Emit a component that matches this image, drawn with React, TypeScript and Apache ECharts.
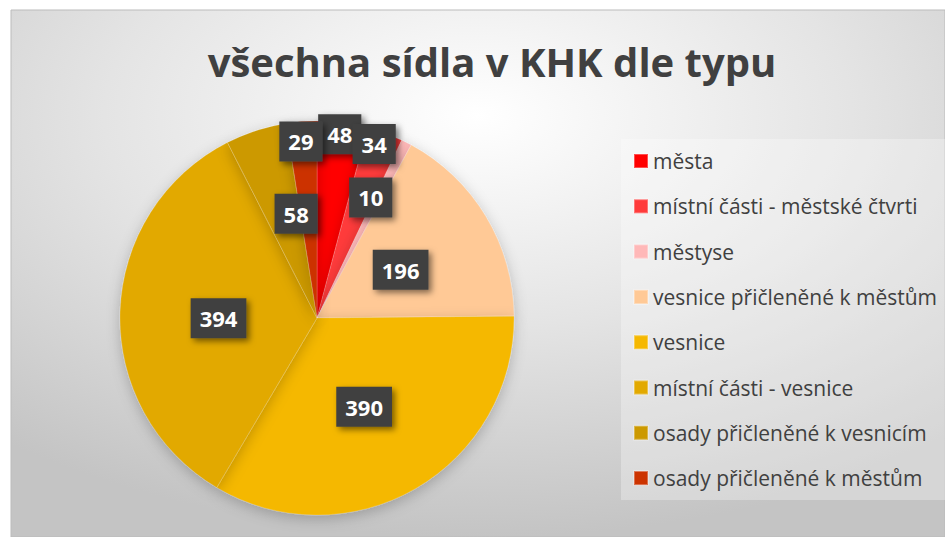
import React, { useEffect, useRef } from "react";
import * as echarts from "echarts";

const categories = [
  "města",
  "místní části - městské čtvrti",
  "městyse",
  "vesnice přičleněné k městům",
  "vesnice",
  "místní části - vesnice",
  "osady přičleněné k vesnicím",
  "osady přičleněné k městům",
];
const values = [48, 34, 10, 196, 390, 394, 58, 29];
const colors = ["#FF0000", "#FF3B3B", "#FFB8B8", "#FFC996", "#F5B800", "#E2A900", "#CC9900", "#CC3300"];
const titleText = "všechna sídla v KHK dle typu";

// label layout tweaks (fraction of radius, angle shift in degrees)
const labelRadius = [0.94, 0.93, 0.67, 0.49, 0.51, 0.5, 0.54, 0.9];
const labelAngleShift = [-0.4, -2, -3, 1, 2, -2, 6.7, -0.7];

const CX = 317;
const CY = 318;
const R = 197;

export default function App() {
  const ref = useRef<HTMLDivElement>(null);
  useEffect(() => {
    if (!ref.current) return;
    const chart = echarts.init(ref.current, null, { renderer: "svg" });
    const total = values.reduce((a, b) => a + b, 0);
    const cum: number[] = [];
    let acc = 0;
    values.forEach((v) => {
      cum.push(acc + v / 2);
      acc += v;
    });
    const font = "'Open Sans', 'Noto Sans', sans-serif";
    chart.setOption({
      animation: false,
      title: {
        text: titleText,
        left: 487,
        top: 36,
        textAlign: "center",
        textStyle: { fontSize: 40, fontWeight: "bold", color: "#404040", fontFamily: font },
      },
      graphic: [
        {
          type: "rect",
          z: -10,
          silent: true,
          shape: { x: 11, y: 10, width: 934, height: 527 },
          style: {
            fill: new echarts.graphic.RadialGradient(0.5, 0.2, 0.8, [
              { offset: 0, color: "#ffffff" },
              { offset: 0.5, color: "#e4e4e4" },
              { offset: 1, color: "#c4c4c4" },
            ]),
            stroke: "#bbbbbb",
            lineWidth: 1,
          },
        },
        {
          type: "rect",
          z: -9,
          silent: true,
          shape: { x: 621, y: 139, width: 324, height: 361 },
          style: { fill: "rgba(255,255,255,0.3)" },
        },
      ],
      legend: {
        orient: "vertical",
        left: 628,
        top: 145,
        icon: "rect",
        itemWidth: 14,
        itemHeight: 14,
        itemGap: 23.3,
        data: categories,
        textStyle: { fontSize: 21, color: "#404040", fontFamily: font, lineHeight: 22 },
      },
      series: [
        {
          type: "pie",
          center: [CX, CY],
          radius: R,
          startAngle: 90,
          clockwise: true,
          data: categories.map((name, i) => ({ name, value: values[i], itemStyle: { color: colors[i] } })),
          itemStyle: {
            borderColor: "rgba(255,255,255,0.3)",
            borderWidth: 0.5,
            shadowBlur: 14,
            shadowColor: "rgba(0,0,0,0.22)",
            shadowOffsetY: 4,
          },
          label: {
            show: true,
            position: "inside",
            formatter: "{c}",
            color: "#ffffff",
            fontSize: 22,
            fontWeight: "bold",
            fontFamily: font,
            lineHeight: 22,
            backgroundColor: "#404040",
            padding: [9, 9, 9, 9],
            shadowBlur: 6,
            shadowColor: "rgba(0,0,0,0.5)",
            shadowOffsetX: 3,
            shadowOffsetY: 3,
          },
          labelLine: { show: false },
          labelLayout: (params: any) => {
            const i = params.dataIndex;
            const ang = ((cum[i] / total) * 360 + labelAngleShift[i]) * (Math.PI / 180);
            const r = R * labelRadius[i];
            return { x: CX + r * Math.sin(ang), y: CY - r * Math.cos(ang) };
          },
          emphasis: { disabled: true },
        },
      ],
    });
    return () => chart.dispose();
  }, []);
  return <div ref={ref} style={{ position: "absolute", left: 0, top: 0, width: 945, height: 537 }} />;
}
